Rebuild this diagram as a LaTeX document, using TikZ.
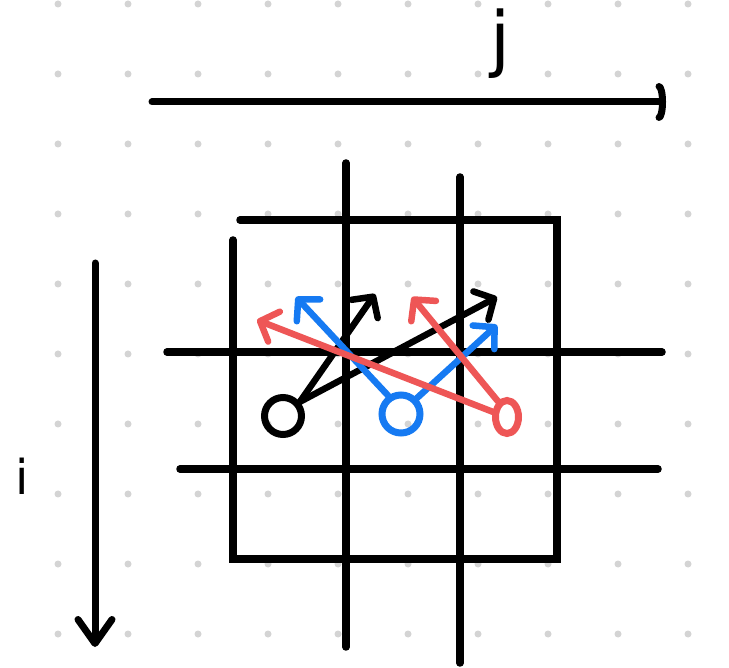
\documentclass[tikz,border=0pt]{standalone}
\usepackage{fontspec}
\setsansfont{DejaVu Sans}
\usetikzlibrary{arrows.meta,shapes.geometric}
\definecolor{dotgray}{RGB}{212,212,212}
\definecolor{pblue}{RGB}{22,122,242}
\definecolor{pred}{RGB}{238,86,86}

\begin{document}
\begin{tikzpicture}[x=1pt,y=-1pt,
    ax/.style={line width=7pt, line cap=round},
    gline/.style={line width=7.5pt, line cap=round},
    blob/.style={draw, circle, line width=7pt, inner sep=0pt, minimum size=37pt},
    arr/.style={line width=6.5pt, line cap=round, -{Straight Barb[length=15pt,width=32pt,round]}},
    lab/.style={font=\sffamily, anchor=base, inner sep=0pt}
  ]
    \useasboundingbox[fill=white] (0,0) rectangle (729,668);
    % dotted paper
    \foreach \c in {0,...,9}
      \foreach \r in {0,...,9}
        \fill[dotgray] (58+70*\c,4+70*\r) circle (3.5pt);

    % axes
    \coordinate (jL) at (152,102);
    \coordinate (jR) at (666,102);
    \coordinate (iT) at (95,263);
    \coordinate (iB) at (95,647);
    \draw[ax, -{Arc Barb[length=7pt,width=38pt,round]}] (jL) -- (jR);
    \draw[ax, -{Straight Barb[length=24pt,width=34pt,round]}] (iT) -- (iB);
    \node[lab, font=\sffamily\fontsize{72}{72}\selectfont] (jlab) at (500,64) {j};
    \node[lab, font=\sffamily\fontsize{48}{48}\selectfont] (ilab) at (22,495) {i};

    % grid
    \draw[gline] (240,220) -- (557,220) -- (557,559) -- (233,559) -- (233,240);
    \draw[gline] (346,163) -- (346,647);
    \draw[gline] (460,177) -- (460,663);
    \draw[gline] (167,352) -- (662,352);
    \draw[gline] (180,469) -- (658,469);

    % start points
    \node[blob] (bk) at (283,416) {};
    \node[blob, draw=pblue, minimum size=38pt] (bl) at (401,414) {};
    \node[blob, draw=pred, ellipse, minimum width=23pt, minimum height=33pt] (rd) at (507,417) {};

    % targets
    \coordinate (bk1) at (375,294);
    \coordinate (bk2) at (497,297);
    \coordinate (bl1) at (296,297);
    \coordinate (bl2) at (497,325);
    \coordinate (rd1) at (257,320);
    \coordinate (rd2) at (412,297);

    \draw[arr] (bk.40) -- (bk1);
    \draw[arr] (bk.40) -- (bk2);
    \draw[arr, pblue] (bl.125) -- (bl1);
    \draw[arr, pblue] (bl.45) -- (bl2);
    \draw[arr, pred] (rd.160) -- (rd1);
    \draw[arr, pred] (rd.120) -- (rd2);
\end{tikzpicture}
\end{document}
